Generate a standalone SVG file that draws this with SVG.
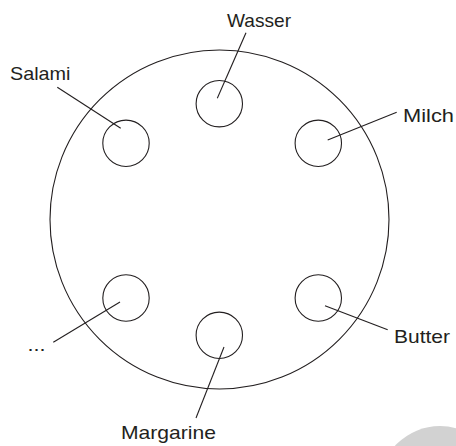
<svg xmlns="http://www.w3.org/2000/svg" width="456" height="446" viewBox="0 0 456 446">
<style>
.c{fill:none;stroke:#231f20;stroke-width:1.1}
.l{stroke:#231f20;stroke-width:1.1;fill:none}
text{font-family:"Liberation Sans",Arial,sans-serif;font-size:19px;fill:#231f20}
</style>
<rect width="456" height="446" fill="#fff"/>
<circle cx="440" cy="487" r="61" fill="#d2d2d2"/>
<g id="plate"><circle class="c" cx="219.5" cy="219.5" r="169.5"/></g>
<g id="wasser"><circle class="c" cx="219.3" cy="103.7" r="23.2"/><text x="227" y="26.5" textLength="64" lengthAdjust="spacingAndGlyphs">Wasser</text></g>
<g id="salami"><circle class="c" cx="126" cy="143.3" r="23.2"/><text x="10" y="80" textLength="60.5" lengthAdjust="spacingAndGlyphs">Salami</text></g>
<g id="milch"><circle class="c" cx="318.3" cy="143.3" r="23.2"/><text x="403" y="121.8" textLength="51" lengthAdjust="spacingAndGlyphs">Milch</text></g>
<g id="dots"><circle class="c" cx="126" cy="298" r="23.2"/><text x="27.5" y="350.5" textLength="18" lengthAdjust="spacingAndGlyphs">...</text></g>
<g id="margarine"><circle class="c" cx="219.3" cy="335.3" r="23.2"/><text x="121" y="438.5" textLength="95" lengthAdjust="spacingAndGlyphs">Margarine</text></g>
<g id="butter"><circle class="c" cx="318.3" cy="298" r="23.2"/><text x="394" y="343" textLength="56" lengthAdjust="spacingAndGlyphs">Butter</text></g>
<g id="connectors">
<line class="l" x1="217.3" y1="98.3" x2="246" y2="32.7"/>
<line class="l" x1="120.7" y1="128.3" x2="57.3" y2="87.3"/>
<line class="l" x1="327.7" y1="140" x2="396.7" y2="112.3"/>
<line class="l" x1="120" y1="302" x2="53.3" y2="342.3"/>
<line class="l" x1="224" y1="347" x2="196" y2="418"/>
<line class="l" x1="325" y1="305.7" x2="387.7" y2="329.7"/>
</g>
</svg>
